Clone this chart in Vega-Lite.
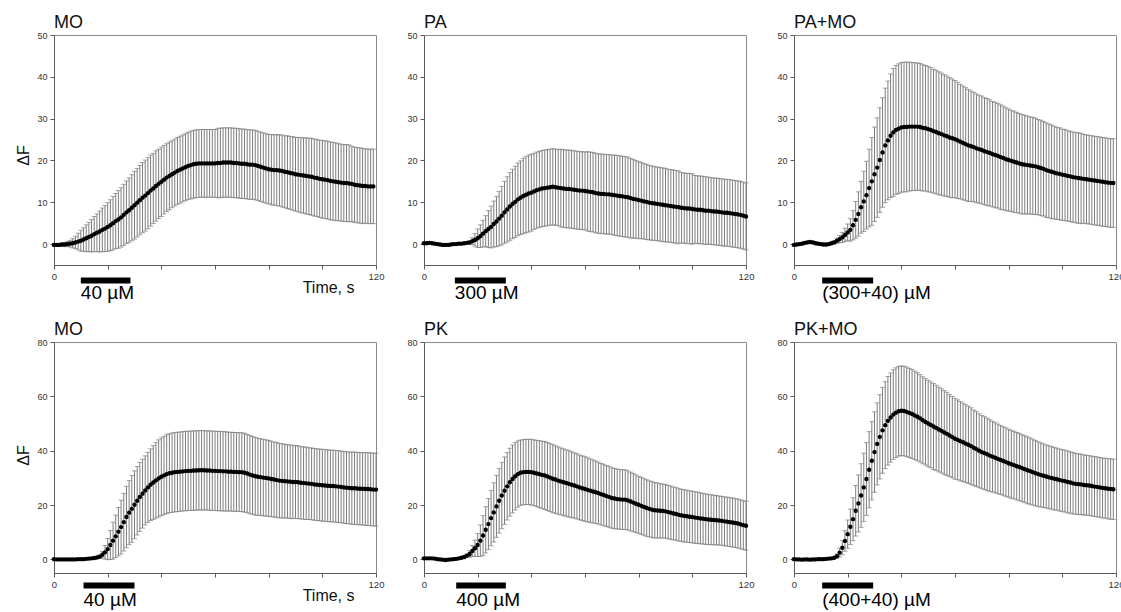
{
  "$schema": "https://vega.github.io/schema/vega-lite/v6.json",
  "padding": {"left": 14, "top": 13, "right": 0, "bottom": 0},
  "background": "white",
  "config": {
    "font": "Liberation Sans",
    "view": {"stroke": "#8a8a8a", "strokeWidth": 1},
    "axis": {"grid": false, "domainColor": "#5a5a5a", "tickColor": "#5a5a5a", "labelColor": "#333333", "labelFont": "Liberation Sans", "titleFont": "Liberation Sans", "titleFontWeight": "normal", "titleColor": "#111111"},
    "axisX": {"labelFlush": false, "labelFontSize": 9.5, "tickSize": 4, "labelPadding": 2},
    "axisY": {"labelFontSize": 9, "tickSize": 4, "labelPadding": 3},
    "title": {"anchor": "start", "frame": "group", "fontSize": 18, "fontWeight": "normal", "font": "Liberation Sans", "color": "#111111", "baseline": "alphabetic", "offset": -1}
  },
  "datasets": {
    "mo1": [
      {"t":0,"m":-0.2,"s":0.3},{"t":1,"m":-0.2,"s":0.3},{"t":2,"m":-0.2,"s":0.3},{"t":3,"m":-0.1,"s":0.4},{"t":4,"m":-0.1,"s":0.5},{"t":5,"m":0,"s":0.6},{"t":6,"m":0.1,"s":0.8},{"t":7,"m":0.2,"s":1.1},{"t":8,"m":0.4,"s":1.5},{"t":9,"m":0.6,"s":2.0},
      {"t":10,"m":0.8,"s":2.5},{"t":11,"m":1.1,"s":2.8},{"t":12,"m":1.4,"s":3.2},{"t":13,"m":1.7,"s":3.5},{"t":14,"m":2.0,"s":3.9},{"t":15,"m":2.4,"s":4.2},{"t":16,"m":2.7,"s":4.5},{"t":17,"m":3.0,"s":4.9},{"t":18,"m":3.4,"s":5.2},{"t":19,"m":3.7,"s":5.5},
      {"t":20,"m":4.1,"s":5.8},{"t":21,"m":4.5,"s":6.1},{"t":22,"m":5.0,"s":6.4},{"t":23,"m":5.5,"s":6.6},{"t":24,"m":5.9,"s":6.9},{"t":25,"m":6.4,"s":7.1},{"t":26,"m":7.0,"s":7.3},{"t":27,"m":7.6,"s":7.5},{"t":28,"m":8.1,"s":7.7},{"t":29,"m":8.7,"s":7.9},
      {"t":30,"m":9.3,"s":8.1},{"t":31,"m":9.9,"s":8.2},{"t":32,"m":10.5,"s":8.3},{"t":33,"m":11.1,"s":8.4},{"t":34,"m":11.6,"s":8.5},{"t":35,"m":12.2,"s":8.5},{"t":36,"m":12.8,"s":8.5},{"t":37,"m":13.3,"s":8.4},{"t":38,"m":13.9,"s":8.4},{"t":39,"m":14.4,"s":8.3},
      {"t":40,"m":14.9,"s":8.3},{"t":41,"m":15.4,"s":8.2},{"t":42,"m":15.9,"s":8.1},{"t":43,"m":16.3,"s":8.1},{"t":44,"m":16.7,"s":8.0},{"t":45,"m":17.1,"s":8.0},{"t":46,"m":17.5,"s":8.0},{"t":47,"m":17.8,"s":8.0},{"t":48,"m":18.1,"s":8.0},{"t":49,"m":18.4,"s":8.0},
      {"t":50,"m":18.7,"s":8.0},{"t":51,"m":18.9,"s":8.1},{"t":52,"m":19.1,"s":8.1},{"t":53,"m":19.2,"s":8.1},{"t":54,"m":19.3,"s":8.1},{"t":55,"m":19.3,"s":8.1},{"t":56,"m":19.3,"s":8.1},{"t":57,"m":19.3,"s":8.1},{"t":58,"m":19.3,"s":8.1},{"t":59,"m":19.3,"s":8.1},
      {"t":60,"m":19.3,"s":8.1},{"t":61,"m":19.4,"s":8.3},{"t":62,"m":19.4,"s":8.3},{"t":63,"m":19.5,"s":8.3},{"t":64,"m":19.5,"s":8.3},{"t":65,"m":19.5,"s":8.3},{"t":66,"m":19.5,"s":8.3},{"t":67,"m":19.4,"s":8.3},{"t":68,"m":19.4,"s":8.3},{"t":69,"m":19.3,"s":8.3},
      {"t":70,"m":19.2,"s":8.3},{"t":71,"m":19.2,"s":8.3},{"t":72,"m":19.1,"s":8.3},{"t":73,"m":19.0,"s":8.3},{"t":74,"m":19.0,"s":8.3},{"t":75,"m":18.9,"s":8.3},{"t":76,"m":18.7,"s":8.3},{"t":77,"m":18.5,"s":8.3},{"t":78,"m":18.3,"s":8.3},{"t":79,"m":18.1,"s":8.3},
      {"t":80,"m":17.9,"s":8.3},{"t":81,"m":17.8,"s":8.4},{"t":82,"m":17.7,"s":8.4},{"t":83,"m":17.7,"s":8.5},{"t":84,"m":17.6,"s":8.5},{"t":85,"m":17.5,"s":8.6},{"t":86,"m":17.3,"s":8.6},{"t":87,"m":17.2,"s":8.7},{"t":88,"m":17.0,"s":8.7},{"t":89,"m":16.9,"s":8.8},
      {"t":90,"m":16.7,"s":8.8},{"t":91,"m":16.6,"s":8.9},{"t":92,"m":16.5,"s":9.0},{"t":93,"m":16.4,"s":9.0},{"t":94,"m":16.3,"s":9.1},{"t":95,"m":16.2,"s":9.1},{"t":96,"m":16.1,"s":9.2},{"t":97,"m":15.9,"s":9.2},{"t":98,"m":15.8,"s":9.2},{"t":99,"m":15.6,"s":9.2},
      {"t":100,"m":15.5,"s":9.3},{"t":101,"m":15.4,"s":9.3},{"t":102,"m":15.3,"s":9.3},{"t":103,"m":15.1,"s":9.3},{"t":104,"m":15.0,"s":9.3},{"t":105,"m":14.9,"s":9.3},{"t":106,"m":14.8,"s":9.2},{"t":107,"m":14.7,"s":9.2},{"t":108,"m":14.6,"s":9.2},{"t":109,"m":14.6,"s":9.2},
      {"t":110,"m":14.5,"s":9.2},{"t":111,"m":14.4,"s":9.0},{"t":112,"m":14.2,"s":9.0},{"t":113,"m":14.1,"s":9.0},{"t":114,"m":14.0,"s":9.0},{"t":115,"m":13.9,"s":9.0},{"t":116,"m":13.9,"s":8.9},{"t":117,"m":13.8,"s":8.9},{"t":118,"m":13.8,"s":8.9},{"t":119,"m":13.8,"s":8.9}
    ],
    "pa": [
      {"t":0,"m":0.2,"s":0.2},{"t":1,"m":0.2,"s":0.2},{"t":2,"m":0.3,"s":0.2},{"t":3,"m":0.2,"s":0.2},{"t":4,"m":0.1,"s":0.2},{"t":5,"m":0.0,"s":0.2},{"t":6,"m":-0.1,"s":0.2},{"t":7,"m":-0.2,"s":0.2},{"t":8,"m":-0.2,"s":0.2},{"t":9,"m":-0.2,"s":0.2},
      {"t":10,"m":-0.1,"s":0.2},{"t":11,"m":0.0,"s":0.2},{"t":12,"m":0.0,"s":0.2},{"t":13,"m":0.1,"s":0.2},{"t":14,"m":0.1,"s":0.2},{"t":15,"m":0.2,"s":0.2},{"t":16,"m":0.3,"s":0.2},{"t":17,"m":0.4,"s":0.4},{"t":18,"m":0.7,"s":0.8},{"t":19,"m":1.0,"s":1.5},
      {"t":20,"m":1.4,"s":2.2},{"t":21,"m":1.9,"s":2.7},{"t":22,"m":2.5,"s":3.2},{"t":23,"m":3.1,"s":3.7},{"t":24,"m":3.6,"s":4.4},{"t":25,"m":4.1,"s":5.0},{"t":26,"m":4.8,"s":5.5},{"t":27,"m":5.4,"s":6.0},{"t":28,"m":6.1,"s":6.5},{"t":29,"m":6.8,"s":7.0},
      {"t":30,"m":7.6,"s":7.4},{"t":31,"m":8.3,"s":7.8},{"t":32,"m":9.0,"s":8.1},{"t":33,"m":9.6,"s":8.3},{"t":34,"m":10.1,"s":8.5},{"t":35,"m":10.7,"s":8.7},{"t":36,"m":11.1,"s":8.8},{"t":37,"m":11.5,"s":9.0},{"t":38,"m":11.8,"s":9.1},{"t":39,"m":12.1,"s":9.2},
      {"t":40,"m":12.3,"s":9.2},{"t":41,"m":12.6,"s":9.1},{"t":42,"m":12.9,"s":9.1},{"t":43,"m":13.1,"s":9.1},{"t":44,"m":13.3,"s":9.1},{"t":45,"m":13.4,"s":9.1},{"t":46,"m":13.5,"s":9.1},{"t":47,"m":13.6,"s":9.1},{"t":48,"m":13.7,"s":9.1},{"t":49,"m":13.6,"s":9.1},
      {"t":50,"m":13.5,"s":9.1},{"t":51,"m":13.4,"s":9.3},{"t":52,"m":13.3,"s":9.3},{"t":53,"m":13.2,"s":9.3},{"t":54,"m":13.2,"s":9.3},{"t":55,"m":13.1,"s":9.3},{"t":56,"m":13.0,"s":9.3},{"t":57,"m":12.9,"s":9.3},{"t":58,"m":12.8,"s":9.3},{"t":59,"m":12.8,"s":9.3},
      {"t":60,"m":12.7,"s":9.3},{"t":61,"m":12.6,"s":9.5},{"t":62,"m":12.5,"s":9.5},{"t":63,"m":12.4,"s":9.5},{"t":64,"m":12.2,"s":9.5},{"t":65,"m":12.1,"s":9.5},{"t":66,"m":12.0,"s":9.5},{"t":67,"m":12.0,"s":9.5},{"t":68,"m":11.9,"s":9.5},{"t":69,"m":11.9,"s":9.5},
      {"t":70,"m":11.8,"s":9.5},{"t":71,"m":11.7,"s":9.6},{"t":72,"m":11.6,"s":9.6},{"t":73,"m":11.5,"s":9.6},{"t":74,"m":11.4,"s":9.6},{"t":75,"m":11.3,"s":9.6},{"t":76,"m":11.2,"s":9.6},{"t":77,"m":11.0,"s":9.5},{"t":78,"m":10.8,"s":9.4},{"t":79,"m":10.7,"s":9.3},
      {"t":80,"m":10.5,"s":9.2},{"t":81,"m":10.4,"s":9.1},{"t":82,"m":10.2,"s":9.0},{"t":83,"m":10.1,"s":9.0},{"t":84,"m":9.9,"s":8.9},{"t":85,"m":9.8,"s":8.9},{"t":86,"m":9.7,"s":8.8},{"t":87,"m":9.6,"s":8.8},{"t":88,"m":9.5,"s":8.8},{"t":89,"m":9.4,"s":8.8},
      {"t":90,"m":9.3,"s":8.8},{"t":91,"m":9.2,"s":8.7},{"t":92,"m":9.1,"s":8.7},{"t":93,"m":9.0,"s":8.7},{"t":94,"m":8.9,"s":8.7},{"t":95,"m":8.8,"s":8.7},{"t":96,"m":8.7,"s":8.4},{"t":97,"m":8.6,"s":8.4},{"t":98,"m":8.5,"s":8.4},{"t":99,"m":8.5,"s":8.4},
      {"t":100,"m":8.4,"s":8.4},{"t":101,"m":8.3,"s":8.1},{"t":102,"m":8.2,"s":8.1},{"t":103,"m":8.2,"s":8.1},{"t":104,"m":8.1,"s":8.1},{"t":105,"m":8.0,"s":8.1},{"t":106,"m":8.0,"s":8.0},{"t":107,"m":7.9,"s":8.0},{"t":108,"m":7.8,"s":8.0},{"t":109,"m":7.8,"s":8.0},
      {"t":110,"m":7.7,"s":8.0},{"t":111,"m":7.6,"s":8.0},{"t":112,"m":7.5,"s":8.0},{"t":113,"m":7.5,"s":8.0},{"t":114,"m":7.4,"s":8.0},{"t":115,"m":7.3,"s":8.0},{"t":116,"m":7.2,"s":8.0},{"t":117,"m":7.1,"s":8.0},{"t":118,"m":7.0,"s":8.0},{"t":119,"m":6.8,"s":8.0},{"t":120,"m":6.6,"s":8.0}
    ],
    "pamo": [
      {"t":0,"m":-0.2,"s":0.3},{"t":1,"m":-0.1,"s":0.3},{"t":2,"m":0.0,"s":0.3},{"t":3,"m":0.1,"s":0.3},{"t":4,"m":0.3,"s":0.3},{"t":5,"m":0.4,"s":0.3},{"t":6,"m":0.5,"s":0.3},{"t":7,"m":0.4,"s":0.3},{"t":8,"m":0.2,"s":0.3},{"t":9,"m":0.1,"s":0.3},
      {"t":10,"m":0.0,"s":0.3},{"t":11,"m":-0.1,"s":0.3},{"t":12,"m":-0.1,"s":0.3},{"t":13,"m":0.0,"s":0.3},{"t":14,"m":0.2,"s":0.3},{"t":15,"m":0.4,"s":0.4},{"t":16,"m":0.8,"s":0.6},{"t":17,"m":1.2,"s":0.9},{"t":18,"m":1.6,"s":1.2},{"t":19,"m":2.2,"s":1.6},
      {"t":20,"m":2.8,"s":2.0},{"t":21,"m":3.4,"s":2.7},{"t":22,"m":4.5,"s":3.5},{"t":23,"m":5.8,"s":4.4},{"t":24,"m":7.2,"s":5.3},{"t":25,"m":8.8,"s":6.2},{"t":26,"m":10.2,"s":7.2},{"t":27,"m":11.7,"s":8.1},{"t":28,"m":13.4,"s":9.3},{"t":29,"m":15.0,"s":10.5},
      {"t":30,"m":16.7,"s":11.3},{"t":31,"m":18.3,"s":11.9},{"t":32,"m":20.1,"s":12.5},{"t":33,"m":21.9,"s":13.1},{"t":34,"m":23.6,"s":13.7},{"t":35,"m":24.8,"s":14.2},{"t":36,"m":25.9,"s":14.8},{"t":37,"m":26.7,"s":15.3},{"t":38,"m":27.3,"s":15.4},{"t":39,"m":27.6,"s":15.5},
      {"t":40,"m":27.9,"s":15.5},{"t":41,"m":28.0,"s":15.5},{"t":42,"m":28.0,"s":15.5},{"t":43,"m":28.1,"s":15.4},{"t":44,"m":28.1,"s":15.3},{"t":45,"m":28.1,"s":15.3},{"t":46,"m":28.1,"s":15.2},{"t":47,"m":28.0,"s":15.2},{"t":48,"m":27.8,"s":15.1},{"t":49,"m":27.7,"s":15.0},
      {"t":50,"m":27.5,"s":15.0},{"t":51,"m":27.3,"s":14.9},{"t":52,"m":27.0,"s":14.8},{"t":53,"m":26.8,"s":14.8},{"t":54,"m":26.5,"s":14.7},{"t":55,"m":26.3,"s":14.6},{"t":56,"m":26.0,"s":14.5},{"t":57,"m":25.8,"s":14.4},{"t":58,"m":25.5,"s":14.3},{"t":59,"m":25.3,"s":14.2},
      {"t":60,"m":25.1,"s":14.0},{"t":61,"m":24.8,"s":13.9},{"t":62,"m":24.5,"s":13.7},{"t":63,"m":24.2,"s":13.6},{"t":64,"m":23.9,"s":13.5},{"t":65,"m":23.6,"s":13.4},{"t":66,"m":23.4,"s":13.2},{"t":67,"m":23.2,"s":13.1},{"t":68,"m":22.9,"s":13.0},{"t":69,"m":22.7,"s":12.9},
      {"t":70,"m":22.5,"s":12.9},{"t":71,"m":22.2,"s":12.8},{"t":72,"m":22.0,"s":12.8},{"t":73,"m":21.8,"s":12.7},{"t":74,"m":21.5,"s":12.6},{"t":75,"m":21.3,"s":12.6},{"t":76,"m":21.1,"s":12.5},{"t":77,"m":20.8,"s":12.5},{"t":78,"m":20.6,"s":12.4},{"t":79,"m":20.3,"s":12.3},
      {"t":80,"m":20.1,"s":12.2},{"t":81,"m":19.9,"s":12.1},{"t":82,"m":19.7,"s":12.1},{"t":83,"m":19.5,"s":12.0},{"t":84,"m":19.3,"s":11.9},{"t":85,"m":19.1,"s":11.9},{"t":86,"m":19.0,"s":11.8},{"t":87,"m":18.9,"s":11.7},{"t":88,"m":18.8,"s":11.6},{"t":89,"m":18.7,"s":11.6},
      {"t":90,"m":18.6,"s":11.5},{"t":91,"m":18.4,"s":11.4},{"t":92,"m":18.2,"s":11.4},{"t":93,"m":18.0,"s":11.3},{"t":94,"m":17.7,"s":11.3},{"t":95,"m":17.5,"s":11.2},{"t":96,"m":17.3,"s":11.2},{"t":97,"m":17.1,"s":11.1},{"t":98,"m":16.9,"s":11.0},{"t":99,"m":16.8,"s":11.0},
      {"t":100,"m":16.6,"s":10.9},{"t":101,"m":16.5,"s":10.9},{"t":102,"m":16.3,"s":10.8},{"t":103,"m":16.2,"s":10.8},{"t":104,"m":16.0,"s":10.8},{"t":105,"m":15.9,"s":10.8},{"t":106,"m":15.8,"s":10.8},{"t":107,"m":15.7,"s":10.8},{"t":108,"m":15.6,"s":10.6},{"t":109,"m":15.5,"s":10.6},
      {"t":110,"m":15.4,"s":10.6},{"t":111,"m":15.3,"s":10.6},{"t":112,"m":15.2,"s":10.6},{"t":113,"m":15.1,"s":10.6},{"t":114,"m":15.0,"s":10.6},{"t":115,"m":14.9,"s":10.6},{"t":116,"m":14.8,"s":10.6},{"t":117,"m":14.7,"s":10.6},{"t":118,"m":14.6,"s":10.6},{"t":119,"m":14.6,"s":10.6}
    ],
    "mo2": [
      {"t":0,"m":0.1,"s":0.2},{"t":1,"m":0.0,"s":0.2},{"t":2,"m":0.0,"s":0.2},{"t":3,"m":0.0,"s":0.2},{"t":4,"m":0.0,"s":0.2},{"t":5,"m":0.0,"s":0.2},{"t":6,"m":0.0,"s":0.2},{"t":7,"m":0.0,"s":0.2},{"t":8,"m":0.0,"s":0.2},{"t":9,"m":0.1,"s":0.2},
      {"t":10,"m":0.1,"s":0.2},{"t":11,"m":0.1,"s":0.2},{"t":12,"m":0.2,"s":0.2},{"t":13,"m":0.3,"s":0.2},{"t":14,"m":0.4,"s":0.2},{"t":15,"m":0.5,"s":0.2},{"t":16,"m":0.7,"s":0.3},{"t":17,"m":1.0,"s":0.6},{"t":18,"m":1.7,"s":1.2},{"t":19,"m":2.6,"s":2.5},
      {"t":20,"m":3.8,"s":3.9},{"t":21,"m":5.3,"s":5.3},{"t":22,"m":6.9,"s":6.8},{"t":23,"m":8.5,"s":7.8},{"t":24,"m":10.2,"s":8.9},{"t":25,"m":11.9,"s":9.9},{"t":26,"m":13.7,"s":10.6},{"t":27,"m":15.6,"s":11.3},{"t":28,"m":17.2,"s":11.8},{"t":29,"m":18.6,"s":12.3},
      {"t":30,"m":20.1,"s":12.5},{"t":31,"m":21.6,"s":12.6},{"t":32,"m":23.0,"s":12.7},{"t":33,"m":24.2,"s":12.7},{"t":34,"m":25.4,"s":12.7},{"t":35,"m":26.5,"s":12.9},{"t":36,"m":27.5,"s":13.2},{"t":37,"m":28.3,"s":13.6},{"t":38,"m":29.1,"s":13.9},{"t":39,"m":29.8,"s":14.2},
      {"t":40,"m":30.4,"s":14.3},{"t":41,"m":30.9,"s":14.4},{"t":42,"m":31.4,"s":14.5},{"t":43,"m":31.7,"s":14.5},{"t":44,"m":31.9,"s":14.6},{"t":45,"m":32.1,"s":14.6},{"t":46,"m":32.2,"s":14.6},{"t":47,"m":32.3,"s":14.6},{"t":48,"m":32.4,"s":14.6},{"t":49,"m":32.5,"s":14.6},
      {"t":50,"m":32.6,"s":14.6},{"t":51,"m":32.6,"s":14.6},{"t":52,"m":32.7,"s":14.6},{"t":53,"m":32.7,"s":14.6},{"t":54,"m":32.8,"s":14.6},{"t":55,"m":32.8,"s":14.6},{"t":56,"m":32.8,"s":14.6},{"t":57,"m":32.7,"s":14.6},{"t":58,"m":32.7,"s":14.6},{"t":59,"m":32.6,"s":14.6},
      {"t":60,"m":32.6,"s":14.6},{"t":61,"m":32.5,"s":14.6},{"t":62,"m":32.5,"s":14.6},{"t":63,"m":32.4,"s":14.6},{"t":64,"m":32.4,"s":14.6},{"t":65,"m":32.3,"s":14.5},{"t":66,"m":32.3,"s":14.5},{"t":67,"m":32.2,"s":14.5},{"t":68,"m":32.2,"s":14.5},{"t":69,"m":32.1,"s":14.5},
      {"t":70,"m":32.1,"s":14.5},{"t":71,"m":31.9,"s":14.5},{"t":72,"m":31.6,"s":14.4},{"t":73,"m":31.2,"s":14.4},{"t":74,"m":30.9,"s":14.3},{"t":75,"m":30.6,"s":14.3},{"t":76,"m":30.4,"s":14.2},{"t":77,"m":30.3,"s":14.1},{"t":78,"m":30.1,"s":14.1},{"t":79,"m":30.0,"s":14.0},
      {"t":80,"m":29.8,"s":14.0},{"t":81,"m":29.6,"s":13.9},{"t":82,"m":29.4,"s":13.8},{"t":83,"m":29.2,"s":13.8},{"t":84,"m":29.0,"s":13.7},{"t":85,"m":28.9,"s":13.6},{"t":86,"m":28.8,"s":13.6},{"t":87,"m":28.7,"s":13.5},{"t":88,"m":28.6,"s":13.5},{"t":89,"m":28.5,"s":13.5},
      {"t":90,"m":28.5,"s":13.4},{"t":91,"m":28.4,"s":13.4},{"t":92,"m":28.2,"s":13.3},{"t":93,"m":28.1,"s":13.3},{"t":94,"m":28.0,"s":13.3},{"t":95,"m":27.9,"s":13.2},{"t":96,"m":27.8,"s":13.2},{"t":97,"m":27.6,"s":13.2},{"t":98,"m":27.5,"s":13.2},{"t":99,"m":27.4,"s":13.2},
      {"t":100,"m":27.3,"s":13.2},{"t":101,"m":27.2,"s":13.2},{"t":102,"m":27.1,"s":13.2},{"t":103,"m":27.0,"s":13.2},{"t":104,"m":27.0,"s":13.2},{"t":105,"m":26.9,"s":13.2},{"t":106,"m":26.8,"s":13.2},{"t":107,"m":26.7,"s":13.2},{"t":108,"m":26.5,"s":13.2},{"t":109,"m":26.4,"s":13.2},
      {"t":110,"m":26.3,"s":13.2},{"t":111,"m":26.2,"s":13.3},{"t":112,"m":26.2,"s":13.3},{"t":113,"m":26.1,"s":13.3},{"t":114,"m":26.0,"s":13.3},{"t":115,"m":26.0,"s":13.3},{"t":116,"m":25.9,"s":13.4},{"t":117,"m":25.9,"s":13.4},{"t":118,"m":25.8,"s":13.4},{"t":119,"m":25.7,"s":13.4},{"t":120,"m":25.7,"s":13.4}
    ],
    "pk": [
      {"t":0,"m":0.4,"s":0.3},{"t":1,"m":0.4,"s":0.3},{"t":2,"m":0.4,"s":0.3},{"t":3,"m":0.4,"s":0.3},{"t":4,"m":0.3,"s":0.3},{"t":5,"m":0.1,"s":0.3},{"t":6,"m":0.0,"s":0.3},{"t":7,"m":-0.1,"s":0.3},{"t":8,"m":-0.2,"s":0.3},{"t":9,"m":-0.1,"s":0.3},
      {"t":10,"m":0.0,"s":0.3},{"t":11,"m":0.1,"s":0.3},{"t":12,"m":0.2,"s":0.3},{"t":13,"m":0.4,"s":0.3},{"t":14,"m":0.6,"s":0.3},{"t":15,"m":0.9,"s":0.3},{"t":16,"m":1.4,"s":0.6},{"t":17,"m":2.0,"s":1.2},{"t":18,"m":3.1,"s":2.0},{"t":19,"m":4.1,"s":3.0},
      {"t":20,"m":5.3,"s":4.2},{"t":21,"m":6.9,"s":5.8},{"t":22,"m":8.8,"s":7.3},{"t":23,"m":10.9,"s":8.5},{"t":24,"m":13.0,"s":9.4},{"t":25,"m":15.2,"s":10.2},{"t":26,"m":17.3,"s":10.9},{"t":27,"m":19.5,"s":11.4},{"t":28,"m":21.6,"s":11.9},{"t":29,"m":23.5,"s":12.2},
      {"t":30,"m":25.3,"s":12.4},{"t":31,"m":26.9,"s":12.4},{"t":32,"m":28.4,"s":12.5},{"t":33,"m":29.6,"s":12.5},{"t":34,"m":30.6,"s":12.4},{"t":35,"m":31.4,"s":12.2},{"t":36,"m":31.9,"s":12.0},{"t":37,"m":32.1,"s":12.0},{"t":38,"m":32.2,"s":12.0},{"t":39,"m":32.2,"s":12.0},
      {"t":40,"m":32.1,"s":12.1},{"t":41,"m":31.9,"s":12.1},{"t":42,"m":31.6,"s":12.2},{"t":43,"m":31.4,"s":12.3},{"t":44,"m":31.1,"s":12.4},{"t":45,"m":30.9,"s":12.5},{"t":46,"m":30.5,"s":12.5},{"t":47,"m":30.1,"s":12.5},{"t":48,"m":29.7,"s":12.5},{"t":49,"m":29.4,"s":12.4},
      {"t":50,"m":29.0,"s":12.4},{"t":51,"m":28.7,"s":12.3},{"t":52,"m":28.4,"s":12.3},{"t":53,"m":28.1,"s":12.2},{"t":54,"m":27.8,"s":12.2},{"t":55,"m":27.5,"s":12.1},{"t":56,"m":27.2,"s":12.0},{"t":57,"m":26.9,"s":12.0},{"t":58,"m":26.5,"s":11.9},{"t":59,"m":26.2,"s":11.9},
      {"t":60,"m":25.9,"s":11.9},{"t":61,"m":25.6,"s":11.8},{"t":62,"m":25.3,"s":11.7},{"t":63,"m":25.0,"s":11.6},{"t":64,"m":24.7,"s":11.5},{"t":65,"m":24.4,"s":11.4},{"t":66,"m":24.0,"s":11.3},{"t":67,"m":23.7,"s":11.3},{"t":68,"m":23.3,"s":11.2},{"t":69,"m":23.0,"s":11.2},
      {"t":70,"m":22.6,"s":11.1},{"t":71,"m":22.4,"s":11.1},{"t":72,"m":22.2,"s":11.0},{"t":73,"m":22.1,"s":11.0},{"t":74,"m":22.0,"s":11.0},{"t":75,"m":22.0,"s":11.0},{"t":76,"m":21.7,"s":10.9},{"t":77,"m":21.3,"s":10.8},{"t":78,"m":20.9,"s":10.7},{"t":79,"m":20.5,"s":10.6},
      {"t":80,"m":20.1,"s":10.5},{"t":81,"m":19.7,"s":10.5},{"t":82,"m":19.3,"s":10.4},{"t":83,"m":18.9,"s":10.4},{"t":84,"m":18.6,"s":10.3},{"t":85,"m":18.3,"s":10.3},{"t":86,"m":18.1,"s":10.2},{"t":87,"m":18.0,"s":10.1},{"t":88,"m":17.9,"s":10.0},{"t":89,"m":17.8,"s":9.9},
      {"t":90,"m":17.7,"s":9.9},{"t":91,"m":17.4,"s":9.8},{"t":92,"m":17.2,"s":9.8},{"t":93,"m":16.9,"s":9.7},{"t":94,"m":16.7,"s":9.7},{"t":95,"m":16.4,"s":9.6},{"t":96,"m":16.2,"s":9.6},{"t":97,"m":16.0,"s":9.6},{"t":98,"m":15.9,"s":9.6},{"t":99,"m":15.7,"s":9.5},
      {"t":100,"m":15.6,"s":9.5},{"t":101,"m":15.4,"s":9.5},{"t":102,"m":15.3,"s":9.4},{"t":103,"m":15.1,"s":9.4},{"t":104,"m":15.0,"s":9.3},{"t":105,"m":14.8,"s":9.3},{"t":106,"m":14.7,"s":9.2},{"t":107,"m":14.6,"s":9.2},{"t":108,"m":14.5,"s":9.1},{"t":109,"m":14.4,"s":9.1},
      {"t":110,"m":14.3,"s":9.0},{"t":111,"m":14.2,"s":9.0},{"t":112,"m":14.0,"s":9.0},{"t":113,"m":13.9,"s":9.0},{"t":114,"m":13.7,"s":9.0},{"t":115,"m":13.6,"s":9.0},{"t":116,"m":13.4,"s":9.0},{"t":117,"m":13.2,"s":9.0},{"t":118,"m":12.9,"s":9.0},{"t":119,"m":12.6,"s":9.0},{"t":120,"m":12.4,"s":9.0}
    ],
    "pkmo": [
      {"t":0,"m":0.1,"s":0.3},{"t":1,"m":0.0,"s":0.3},{"t":2,"m":0.0,"s":0.3},{"t":3,"m":-0.1,"s":0.3},{"t":4,"m":0.0,"s":0.3},{"t":5,"m":0.0,"s":0.3},{"t":6,"m":-0.1,"s":0.3},{"t":7,"m":0.0,"s":0.3},{"t":8,"m":0.0,"s":0.3},{"t":9,"m":0.1,"s":0.3},
      {"t":10,"m":0.1,"s":0.3},{"t":11,"m":0.1,"s":0.3},{"t":12,"m":0.2,"s":0.3},{"t":13,"m":0.3,"s":0.3},{"t":14,"m":0.4,"s":0.3},{"t":15,"m":0.6,"s":0.3},{"t":16,"m":1.2,"s":0.8},{"t":17,"m":2.5,"s":1.6},{"t":18,"m":4.3,"s":2.6},{"t":19,"m":6.8,"s":3.8},
      {"t":20,"m":9.3,"s":5.2},{"t":21,"m":12.0,"s":6.5},{"t":22,"m":14.8,"s":7.9},{"t":23,"m":17.9,"s":9.3},{"t":24,"m":20.6,"s":10.5},{"t":25,"m":23.5,"s":11.7},{"t":26,"m":26.5,"s":12.6},{"t":27,"m":29.6,"s":13.4},{"t":28,"m":33.0,"s":14.0},{"t":29,"m":36.3,"s":14.4},
      {"t":30,"m":39.5,"s":14.8},{"t":31,"m":42.5,"s":15.1},{"t":32,"m":45.1,"s":15.5},{"t":33,"m":47.5,"s":15.8},{"t":34,"m":49.4,"s":16.0},{"t":35,"m":51.0,"s":16.3},{"t":36,"m":52.2,"s":16.4},{"t":37,"m":53.3,"s":16.5},{"t":38,"m":54.0,"s":16.5},{"t":39,"m":54.5,"s":16.5},
      {"t":40,"m":54.7,"s":16.5},{"t":41,"m":54.6,"s":16.5},{"t":42,"m":54.3,"s":16.5},{"t":43,"m":53.9,"s":16.4},{"t":44,"m":53.5,"s":16.4},{"t":45,"m":53.0,"s":16.3},{"t":46,"m":52.5,"s":16.2},{"t":47,"m":51.9,"s":16.1},{"t":48,"m":51.2,"s":16.0},{"t":49,"m":50.6,"s":15.9},
      {"t":50,"m":50.0,"s":15.9},{"t":51,"m":49.5,"s":15.8},{"t":52,"m":48.9,"s":15.8},{"t":53,"m":48.4,"s":15.7},{"t":54,"m":47.8,"s":15.6},{"t":55,"m":47.3,"s":15.5},{"t":56,"m":46.7,"s":15.4},{"t":57,"m":46.2,"s":15.3},{"t":58,"m":45.6,"s":15.1},{"t":59,"m":45.0,"s":15.0},
      {"t":60,"m":44.4,"s":14.9},{"t":61,"m":44.0,"s":14.7},{"t":62,"m":43.5,"s":14.6},{"t":63,"m":43.1,"s":14.4},{"t":64,"m":42.6,"s":14.3},{"t":65,"m":42.2,"s":14.2},{"t":66,"m":41.7,"s":14.1},{"t":67,"m":41.1,"s":13.9},{"t":68,"m":40.6,"s":13.8},{"t":69,"m":40.0,"s":13.6},
      {"t":70,"m":39.5,"s":13.5},{"t":71,"m":39.1,"s":13.4},{"t":72,"m":38.7,"s":13.3},{"t":73,"m":38.2,"s":13.2},{"t":74,"m":37.8,"s":13.0},{"t":75,"m":37.4,"s":12.9},{"t":76,"m":37.0,"s":12.8},{"t":77,"m":36.6,"s":12.7},{"t":78,"m":36.2,"s":12.6},{"t":79,"m":35.8,"s":12.6},
      {"t":80,"m":35.4,"s":12.5},{"t":81,"m":35.0,"s":12.5},{"t":82,"m":34.7,"s":12.4},{"t":83,"m":34.3,"s":12.4},{"t":84,"m":34.0,"s":12.4},{"t":85,"m":33.6,"s":12.3},{"t":86,"m":33.2,"s":12.3},{"t":87,"m":32.8,"s":12.3},{"t":88,"m":32.5,"s":12.2},{"t":89,"m":32.1,"s":12.1},
      {"t":90,"m":31.7,"s":12.0},{"t":91,"m":31.4,"s":11.9},{"t":92,"m":31.1,"s":11.8},{"t":93,"m":30.8,"s":11.7},{"t":94,"m":30.5,"s":11.6},{"t":95,"m":30.2,"s":11.6},{"t":96,"m":30.0,"s":11.5},{"t":97,"m":29.7,"s":11.5},{"t":98,"m":29.5,"s":11.4},{"t":99,"m":29.2,"s":11.4},
      {"t":100,"m":29.0,"s":11.4},{"t":101,"m":28.8,"s":11.4},{"t":102,"m":28.5,"s":11.4},{"t":103,"m":28.3,"s":11.3},{"t":104,"m":28.0,"s":11.3},{"t":105,"m":27.8,"s":11.2},{"t":106,"m":27.7,"s":11.2},{"t":107,"m":27.6,"s":11.1},{"t":108,"m":27.4,"s":11.1},{"t":109,"m":27.3,"s":11.0},
      {"t":110,"m":27.2,"s":11.0},{"t":111,"m":27.0,"s":11.0},{"t":112,"m":26.8,"s":11.0},{"t":113,"m":26.7,"s":11.0},{"t":114,"m":26.5,"s":11.0},{"t":115,"m":26.3,"s":11.0},{"t":116,"m":26.2,"s":11.0},{"t":117,"m":26.0,"s":11.1},{"t":118,"m":25.9,"s":11.1},{"t":119,"m":25.8,"s":11.1}
    ]
  },
  "columns": 3,
  "spacing": {"row": 77, "column": 48},
  "bounds": "flush",
  "concat": [
    {
      "title": "MO", "width": 322, "height": 230,
      "layer": [
        {"data": {"name": "mo1"}, "mark": {"type": "errorbar", "ticks": true, "size": 5, "thickness": 1, "color": "#7d7d7d"},
         "encoding": {
           "x": {"field": "t", "type": "quantitative", "scale": {"domain": [0, 120], "nice": false}, "axis": {"values": [0, 20, 40, 60, 80, 100, 120], "labelExpr": "datum.value === 0 || datum.value === 120 ? datum.label : ''", "title": "Time, s", "titleFontSize": 16, "titleAlign": "right", "titleBaseline": "alphabetic", "titleX": 300, "titleY": 27}},
           "y": {"field": "m", "type": "quantitative", "scale": {"domain": [-5, 50], "nice": false, "zero": false}, "axis": {"values": [0, 10, 20, 30, 40, 50], "title": "ΔF", "titleFontSize": 16, "titleAngle": 270, "titleAlign": "center", "titleBaseline": "alphabetic", "titleX": -26, "titleY": 120}},
           "yError": {"field": "s"}}},
        {"data": {"name": "mo1"}, "mark": {"type": "circle", "size": 19, "color": "#000000", "opacity": 1},
         "encoding": {"x": {"field": "t", "type": "quantitative"}, "y": {"field": "m", "type": "quantitative"}}},
        {"data": {"values": [{"t0": 10, "t1": 28.5}]}, "mark": {"type": "rule", "strokeWidth": 6, "color": "#000000", "strokeCap": "butt"},
         "encoding": {"x": {"field": "t0", "type": "quantitative"}, "x2": {"field": "t1"}, "y": {"datum": -8.7}}},
        {"data": {"values": [{"t0": 10, "label": "40 µM"}]}, "mark": {"type": "text", "align": "left", "baseline": "alphabetic", "fontSize": 19, "color": "#000000"},
         "encoding": {"x": {"field": "t0", "type": "quantitative"}, "y": {"datum": -13.1}, "text": {"field": "label"}}}
      ]
    },
    {
      "title": "PA", "width": 322, "height": 230,
      "layer": [
        {"data": {"name": "pa"}, "mark": {"type": "errorbar", "ticks": true, "size": 5, "thickness": 1, "color": "#7d7d7d"},
         "encoding": {
           "x": {"field": "t", "type": "quantitative", "scale": {"domain": [0, 120], "nice": false}, "axis": {"values": [0, 20, 40, 60, 80, 100, 120], "labelExpr": "datum.value === 0 || datum.value === 120 ? datum.label : ''", "title": null}},
           "y": {"field": "m", "type": "quantitative", "scale": {"domain": [-5, 50], "nice": false, "zero": false}, "axis": {"values": [0, 10, 20, 30, 40, 50], "title": null}},
           "yError": {"field": "s"}}},
        {"data": {"name": "pa"}, "mark": {"type": "circle", "size": 19, "color": "#000000", "opacity": 1},
         "encoding": {"x": {"field": "t", "type": "quantitative"}, "y": {"field": "m", "type": "quantitative"}}},
        {"data": {"values": [{"t0": 11.5, "t1": 30.5}]}, "mark": {"type": "rule", "strokeWidth": 6, "color": "#000000", "strokeCap": "butt"},
         "encoding": {"x": {"field": "t0", "type": "quantitative"}, "x2": {"field": "t1"}, "y": {"datum": -8.7}}},
        {"data": {"values": [{"t0": 11.5, "label": "300 µM"}]}, "mark": {"type": "text", "align": "left", "baseline": "alphabetic", "fontSize": 19, "color": "#000000"},
         "encoding": {"x": {"field": "t0", "type": "quantitative"}, "y": {"datum": -13.1}, "text": {"field": "label"}}}
      ]
    },
    {
      "title": "PA+MO", "width": 322, "height": 230,
      "layer": [
        {"data": {"name": "pamo"}, "mark": {"type": "errorbar", "ticks": true, "size": 5, "thickness": 1, "color": "#7d7d7d"},
         "encoding": {
           "x": {"field": "t", "type": "quantitative", "scale": {"domain": [0, 120], "nice": false}, "axis": {"values": [0, 20, 40, 60, 80, 100, 120], "labelExpr": "datum.value === 0 || datum.value === 120 ? datum.label : ''", "title": null}},
           "y": {"field": "m", "type": "quantitative", "scale": {"domain": [-5, 50], "nice": false, "zero": false}, "axis": {"values": [0, 10, 20, 30, 40, 50], "title": null}},
           "yError": {"field": "s"}}},
        {"data": {"name": "pamo"}, "mark": {"type": "circle", "size": 19, "color": "#000000", "opacity": 1},
         "encoding": {"x": {"field": "t", "type": "quantitative"}, "y": {"field": "m", "type": "quantitative"}}},
        {"data": {"values": [{"t0": 10.5, "t1": 29.5}]}, "mark": {"type": "rule", "strokeWidth": 6, "color": "#000000", "strokeCap": "butt"},
         "encoding": {"x": {"field": "t0", "type": "quantitative"}, "x2": {"field": "t1"}, "y": {"datum": -8.7}}},
        {"data": {"values": [{"t0": 10.5, "label": "(300+40) µM"}]}, "mark": {"type": "text", "align": "left", "baseline": "alphabetic", "fontSize": 19, "color": "#000000"},
         "encoding": {"x": {"field": "t0", "type": "quantitative"}, "y": {"datum": -13.1}, "text": {"field": "label"}}}
      ]
    },
    {
      "title": "MO", "width": 322, "height": 231,
      "layer": [
        {"data": {"name": "mo2"}, "mark": {"type": "errorbar", "ticks": true, "size": 5, "thickness": 1, "color": "#7d7d7d"},
         "encoding": {
           "x": {"field": "t", "type": "quantitative", "scale": {"domain": [0, 120], "nice": false}, "axis": {"values": [0, 20, 40, 60, 80, 100, 120], "labelExpr": "datum.value === 0 || datum.value === 120 ? datum.label : ''", "title": "Time, s", "titleFontSize": 16, "titleAlign": "right", "titleBaseline": "alphabetic", "titleX": 300, "titleY": 27}},
           "y": {"field": "m", "type": "quantitative", "scale": {"domain": [-5, 80], "nice": false, "zero": false}, "axis": {"values": [0, 20, 40, 60, 80], "title": "ΔF", "titleFontSize": 16, "titleAngle": 270, "titleAlign": "center", "titleBaseline": "alphabetic", "titleX": -26, "titleY": 113}},
           "yError": {"field": "s"}}},
        {"data": {"name": "mo2"}, "mark": {"type": "circle", "size": 19, "color": "#000000", "opacity": 1},
         "encoding": {"x": {"field": "t", "type": "quantitative"}, "y": {"field": "m", "type": "quantitative"}}},
        {"data": {"values": [{"t0": 11, "t1": 30}]}, "mark": {"type": "rule", "strokeWidth": 6, "color": "#000000", "strokeCap": "butt"},
         "encoding": {"x": {"field": "t0", "type": "quantitative"}, "x2": {"field": "t1"}, "y": {"datum": -9.6}}},
        {"data": {"values": [{"t0": 11, "label": "40 µM"}]}, "mark": {"type": "text", "align": "left", "baseline": "alphabetic", "fontSize": 19, "color": "#000000"},
         "encoding": {"x": {"field": "t0", "type": "quantitative"}, "y": {"datum": -17.3}, "text": {"field": "label"}}}
      ]
    },
    {
      "title": "PK", "width": 322, "height": 231,
      "layer": [
        {"data": {"name": "pk"}, "mark": {"type": "errorbar", "ticks": true, "size": 5, "thickness": 1, "color": "#7d7d7d"},
         "encoding": {
           "x": {"field": "t", "type": "quantitative", "scale": {"domain": [0, 120], "nice": false}, "axis": {"values": [0, 20, 40, 60, 80, 100, 120], "labelExpr": "datum.value === 0 || datum.value === 120 ? datum.label : ''", "title": null}},
           "y": {"field": "m", "type": "quantitative", "scale": {"domain": [-5, 80], "nice": false, "zero": false}, "axis": {"values": [0, 20, 40, 60, 80], "title": null}},
           "yError": {"field": "s"}}},
        {"data": {"name": "pk"}, "mark": {"type": "circle", "size": 19, "color": "#000000", "opacity": 1},
         "encoding": {"x": {"field": "t", "type": "quantitative"}, "y": {"field": "m", "type": "quantitative"}}},
        {"data": {"values": [{"t0": 12, "t1": 30.5}]}, "mark": {"type": "rule", "strokeWidth": 6, "color": "#000000", "strokeCap": "butt"},
         "encoding": {"x": {"field": "t0", "type": "quantitative"}, "x2": {"field": "t1"}, "y": {"datum": -9.6}}},
        {"data": {"values": [{"t0": 12, "label": "400 µM"}]}, "mark": {"type": "text", "align": "left", "baseline": "alphabetic", "fontSize": 19, "color": "#000000"},
         "encoding": {"x": {"field": "t0", "type": "quantitative"}, "y": {"datum": -17.3}, "text": {"field": "label"}}}
      ]
    },
    {
      "title": "PK+MO", "width": 322, "height": 231,
      "layer": [
        {"data": {"name": "pkmo"}, "mark": {"type": "errorbar", "ticks": true, "size": 5, "thickness": 1, "color": "#7d7d7d"},
         "encoding": {
           "x": {"field": "t", "type": "quantitative", "scale": {"domain": [0, 120], "nice": false}, "axis": {"values": [0, 20, 40, 60, 80, 100, 120], "labelExpr": "datum.value === 0 || datum.value === 120 ? datum.label : ''", "title": null}},
           "y": {"field": "m", "type": "quantitative", "scale": {"domain": [-5, 80], "nice": false, "zero": false}, "axis": {"values": [0, 20, 40, 60, 80], "title": null}},
           "yError": {"field": "s"}}},
        {"data": {"name": "pkmo"}, "mark": {"type": "circle", "size": 19, "color": "#000000", "opacity": 1},
         "encoding": {"x": {"field": "t", "type": "quantitative"}, "y": {"field": "m", "type": "quantitative"}}},
        {"data": {"values": [{"t0": 10.5, "t1": 29.5}]}, "mark": {"type": "rule", "strokeWidth": 6, "color": "#000000", "strokeCap": "butt"},
         "encoding": {"x": {"field": "t0", "type": "quantitative"}, "x2": {"field": "t1"}, "y": {"datum": -9.6}}},
        {"data": {"values": [{"t0": 10.5, "label": "(400+40) µM"}]}, "mark": {"type": "text", "align": "left", "baseline": "alphabetic", "fontSize": 19, "color": "#000000"},
         "encoding": {"x": {"field": "t0", "type": "quantitative"}, "y": {"datum": -17.3}, "text": {"field": "label"}}}
      ]
    }
  ]
}
